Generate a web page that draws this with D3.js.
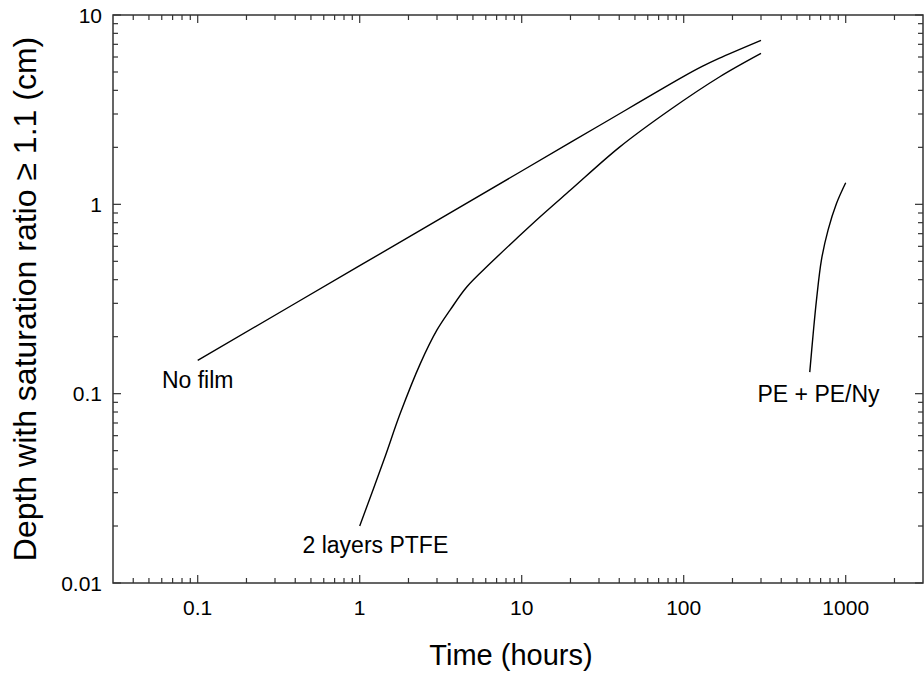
<!DOCTYPE html>
<html>
<head>
<meta charset="utf-8">
<script src="https://cdn.jsdelivr.net/npm/d3@7"></script>
<style>
  body { margin: 0; background: #fff; }
  text { font-family: "Liberation Sans", Arial, sans-serif; fill: #000; }
</style>
</head>
<body>
<div id="chart"></div>
<script>
// curves (time in hours, depth in cm)
const noFilmTime  = [0.1, 1, 10, 30, 100, 130, 165, 300];
const noFilmDepth = [0.15, 0.474, 1.5, 2.6, 4.74, 5.35, 5.9, 7.35];

const ptfeTime  = [1, 1.41, 1.78, 2.37, 3.0, 3.62, 4.59, 6.4, 9.3, 13, 20, 40, 82, 167, 300];
const ptfeDepth = [0.02, 0.0446, 0.0787, 0.1445, 0.217, 0.277, 0.367, 0.488, 0.66, 0.86, 1.19, 2.0, 3.15, 4.72, 6.27];

const peTime  = [600, 630, 660, 708, 778, 877, 1000];
const peDepth = [0.13, 0.208, 0.312, 0.508, 0.731, 1.01, 1.3];

const seriesNames = ["No film", "2 layers PTFE", "PE + PE/Ny"];
// where each curve's label sits, in data units
const labelTime  = [0.1, 1.25, 680];
const labelDepth = [0.107, 0.0144, 0.0904];

const xTicks = [0.1, 1, 10, 100, 1000];
const xTickLabels = ["0.1", "1", "10", "100", "1000"];
const yTicks = [0.01, 0.1, 1, 10];
const yTickLabels = ["0.01", "0.1", "1", "10"];

// layout
var margin = {top: 15, right: 1, bottom: 90, left: 113},
    width = 924 - margin.left - margin.right,
    height = 673 - margin.top - margin.bottom;

var svg = d3.select("#chart")
  .append("svg")
    .attr("width", 924)
    .attr("height", 673)
  .append("g")
    .attr("transform", "translate(" + margin.left + "," + margin.top + ")");

var x = d3.scaleLog().domain([0.03, 3000]).range([0, width]);
var y = d3.scaleLog().domain([0.01, 10]).range([height, 0]);

// minor ticks: 2..9 of each decade
function minors(lo, hi) {
  var out = [];
  for (var e = Math.floor(Math.log10(lo)); e <= Math.ceil(Math.log10(hi)); e++) {
    for (var k = 2; k <= 9; k++) {
      var v = k * Math.pow(10, e);
      if (v > lo * 1.0001 && v < hi * 0.9999) out.push(+v.toPrecision(3));
    }
  }
  return out;
}
var xMinor = minors(0.03, 3000);
var yMinor = minors(0.01, 10);

var axisColor = "#333";
var majorLen = 8, minorLen = 5;

// frame
svg.append("rect")
  .attr("width", width)
  .attr("height", height)
  .attr("fill", "none")
  .attr("stroke", axisColor)
  .attr("stroke-width", 1.5);

var ticks = svg.append("g").attr("stroke", axisColor).attr("stroke-width", 1.2);

function xTickMarks(vals, len) {
  ticks.selectAll(null).data(vals).enter().append("line")
    .attr("x1", d => x(d)).attr("x2", d => x(d))
    .attr("y1", height).attr("y2", height - len);
  ticks.selectAll(null).data(vals).enter().append("line")
    .attr("x1", d => x(d)).attr("x2", d => x(d))
    .attr("y1", 0).attr("y2", len);
}
function yTickMarks(vals, len) {
  ticks.selectAll(null).data(vals).enter().append("line")
    .attr("y1", d => y(d)).attr("y2", d => y(d))
    .attr("x1", 0).attr("x2", len);
  ticks.selectAll(null).data(vals).enter().append("line")
    .attr("y1", d => y(d)).attr("y2", d => y(d))
    .attr("x1", width).attr("x2", width - len);
}
xTickMarks(xTicks, majorLen);
xTickMarks(xMinor, minorLen);
yTickMarks(yTicks, majorLen);
yTickMarks(yMinor, minorLen);

// tick labels
svg.append("g").selectAll("text").data(xTicks).enter().append("text")
  .attr("x", d => x(d))
  .attr("y", height + 32)
  .attr("text-anchor", "middle")
  .style("font-size", "21px")
  .text((d, i) => xTickLabels[i]);

svg.append("g").selectAll("text").data(yTicks).enter().append("text")
  .attr("x", -11)
  .attr("y", d => y(d))
  .attr("dy", "0.36em")
  .attr("text-anchor", "end")
  .style("font-size", "21px")
  .text((d, i) => yTickLabels[i]);

// axis titles
svg.append("text")
  .attr("x", width / 2 - 7)
  .attr("y", height + 82)
  .attr("text-anchor", "middle")
  .style("font-size", "29px")
  .text("Time (hours)");

svg.append("text")
  .attr("transform", "translate(" + (36 - margin.left) + "," + (height / 2) + ") rotate(-90)")
  .attr("text-anchor", "middle")
  .style("font-size", "32px")
  .text("Depth with saturation ratio \u2265 1.1 (cm)");

// curves
var line = d3.line()
  .x(d => x(d[0]))
  .y(d => y(d[1]))
  .curve(d3.curveCatmullRom.alpha(0.5));

var curves = [
  d3.zip(noFilmTime, noFilmDepth),
  d3.zip(ptfeTime, ptfeDepth),
  d3.zip(peTime, peDepth)
];

svg.selectAll(".curve").data(curves).enter().append("path")
  .attr("class", "curve")
  .attr("d", line)
  .attr("fill", "none")
  .attr("stroke", "#000")
  .attr("stroke-width", 1.4);

svg.selectAll(".lbl").data(seriesNames).enter().append("text")
  .attr("class", "lbl")
  .attr("x", (d, i) => x(labelTime[i]))
  .attr("y", (d, i) => y(labelDepth[i]))
  .attr("text-anchor", "middle")
  .style("font-size", "23px")
  .text(d => d);
</script>
</body>
</html>
